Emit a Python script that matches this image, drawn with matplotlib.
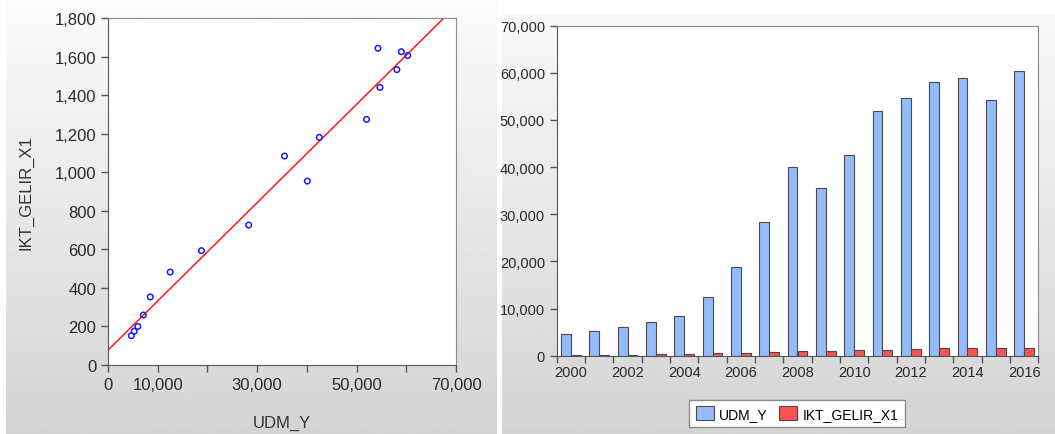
import matplotlib.pyplot as plt
import numpy as np

plt.rcParams['font.family'] = ['Liberation Sans', 'DejaVu Sans']

# data
years = list(range(2000, 2017))
udm_y = [4700, 5250, 6000, 7100, 8500, 12500, 18800, 28300, 40100,
         35500, 42500, 52000, 54700, 58100, 59000, 54300, 60300]
ikt_gelir_x1 = [152, 175, 200, 259, 353, 482, 593, 726, 954,
                1084, 1181, 1274, 1440, 1532, 1625, 1643, 1605]

fig = plt.figure(figsize=(10.55, 4.35), dpi=100)


def gradient_panel(rect, top, bottom):
    bg = fig.add_axes(rect, zorder=-10)
    grad = np.linspace(top, bottom, 256).reshape(-1, 1)
    bg.imshow(grad, aspect='auto', cmap='gray', vmin=0, vmax=1, extent=[0, 1, 0, 1])
    bg.set_axis_off()


def style_axes(ax, size):
    for side in ['left', 'bottom', 'top', 'right']:
        ax.spines[side].set_color('#8c8c8c')
    ax.spines['left'].set_color('#555555')
    ax.spines['bottom'].set_color('#555555')
    ax.tick_params(direction='out', length=5, width=1, color='#555555',
                   labelcolor='#2a2a2a', labelsize=size)


gradient_panel([6 / 1055, 0, 491 / 1055, 1], 0.985, 0.83)
gradient_panel([502 / 1055, 0, 553 / 1055, 419 / 435], 0.975, 0.83)

# scatter with fitted line
ax1 = fig.add_axes([108 / 1055, 69 / 435, 348 / 1055, 347 / 435])
ax1.scatter(udm_y, ikt_gelir_x1, s=16, facecolors='none', edgecolors='#1a1aff',
            linewidths=1.1, zorder=3)
coef = np.polyfit(udm_y, ikt_gelir_x1, 1)
xs = np.array([0, 70000])
ax1.plot(xs, np.polyval(coef, xs), color='#ff1a1a', lw=1.1, zorder=2)
ax1.set_xlim(0, 70000)
ax1.set_ylim(0, 1800)
ax1.set_xticks(np.arange(0, 70001, 10000))
ax1.set_xticklabels(['0', '10,000', '', '30,000', '', '50,000', '', '70,000'])
ax1.set_yticks(np.arange(0, 1801, 200))
ax1.set_yticklabels([f'{v:,}' for v in range(0, 1801, 200)])
style_axes(ax1, 12)
ax1.set_xlabel('UDM_Y', fontsize=12, color='#333333')
ax1.set_ylabel('IKT_GELIR_X1', fontsize=12, color='#333333')
ax1.xaxis.set_label_coords(0.5, -0.144)
ax1.yaxis.set_label_coords(-0.2155, 0.5)

# grouped bars
ax2 = fig.add_axes([556.7 / 1055, 78.3 / 435, 481.6 / 1055, 330 / 435])
pos = np.arange(len(years))
b1 = ax2.bar(pos - 0.175, udm_y, width=0.35, color='#94bcfc', edgecolor='#4a4a4a',
             linewidth=0.8, label='UDM_Y')
b2 = ax2.bar(pos + 0.175, ikt_gelir_x1, width=0.35, color='#ff5252', edgecolor='#4a4a4a',
             linewidth=0.8, label='IKT_GELIR_X1')
ax2.set_xlim(-0.5, len(years) - 0.5)
ax2.set_ylim(0, 70000)
ax2.set_yticks(np.arange(0, 70001, 10000))
ax2.set_yticklabels([f'{v:,}' for v in range(0, 70001, 10000)])
ax2.set_xticks(np.arange(-0.5, len(years), 1))
ax2.set_xticklabels([])
ax2.set_xticks(pos[::2], minor=True)
ax2.set_xticklabels([str(y) for y in years[::2]], minor=True)
style_axes(ax2, 10.5)
ax2.tick_params(axis='x', which='minor', length=0, pad=7, labelsize=10.5, labelcolor='#2a2a2a')

fig.legend(handles=[b1, b2], loc='center', bbox_to_anchor=(797 / 1055, 20.5 / 435),
           ncol=2, fontsize=10, frameon=True, fancybox=False, edgecolor='#8c8c8c',
           framealpha=1, handlelength=1.3, handleheight=1.2, columnspacing=0.8,
           handletextpad=0.4, borderpad=0.45)

fig.savefig('out.png', dpi=100)
